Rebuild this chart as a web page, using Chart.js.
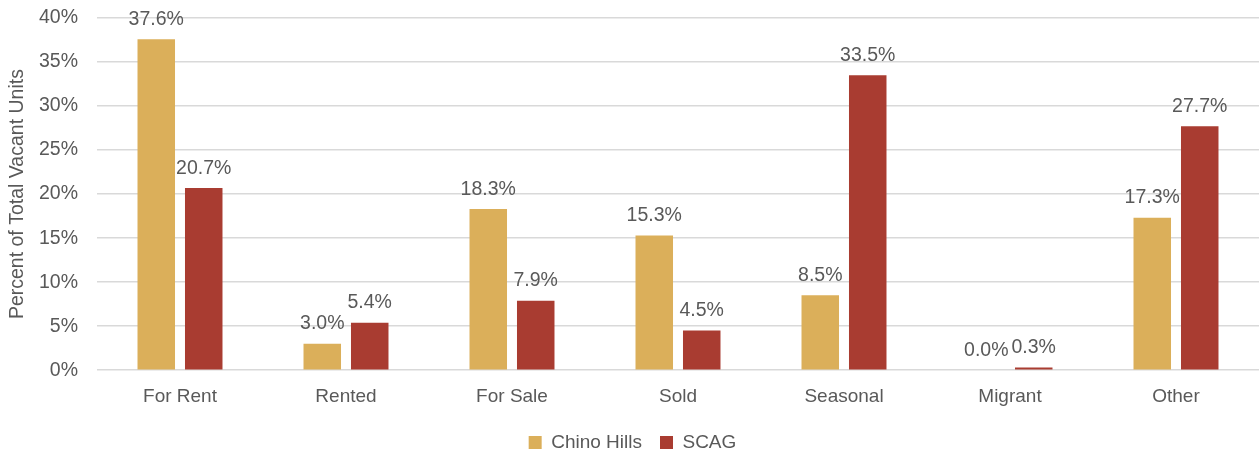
<!DOCTYPE html>
<html>
<head>
<meta charset="utf-8">
<script src="https://cdn.jsdelivr.net/npm/chart.js@4/dist/chart.umd.min.js"></script>
<style>
  html, body { margin: 0; padding: 0; background: #fff; }
  #wrap { width: 1260px; height: 455px; }
</style>
</head>
<body>
<div id="wrap"><canvas id="vacancy-chart"></canvas></div>
<script>
const categories = ["For Rent", "Rented", "For Sale", "Sold", "Seasonal", "Migrant", "Other"];
const chinoHills = [37.6, 3.0, 18.3, 15.3, 8.5, 0.0, 17.3];
const scag = [20.7, 5.4, 7.9, 4.5, 33.5, 0.3, 27.7];
const yTicks = [0, 5, 10, 15, 20, 25, 30, 35, 40];

const FONT = "'Liberation Sans', Arial, sans-serif";
const TEXT = "#595959";

// value labels above each bar
const barLabels = {
  id: "barLabels",
  afterDatasetsDraw(chart) {
    const ctx = chart.ctx;
    ctx.save();
    ctx.font = `19.5px ${FONT}`;
    ctx.fillStyle = TEXT;
    ctx.textAlign = "center";
    ctx.textBaseline = "bottom";
    chart.data.datasets.forEach((ds, i) => {
      chart.getDatasetMeta(i).data.forEach((bar, j) => {
        ctx.fillText(ds.data[j].toFixed(1) + "%", bar.x, bar.y - 10);
      });
    });
    ctx.restore();
  },
};

new Chart(document.getElementById("vacancy-chart"), {
  type: "bar",
  data: {
    labels: categories,
    datasets: [
      { label: "Chino Hills", data: chinoHills, backgroundColor: "#DBAF5A", barPercentage: 0.79, categoryPercentage: 0.572 },
      { label: "SCAG", data: scag, backgroundColor: "#A93C31", barPercentage: 0.79, categoryPercentage: 0.572 },
    ],
  },
  options: {
    responsive: true,
    maintainAspectRatio: false,
    animation: false,
    layout: { padding: { top: 18, right: 1, left: 6, bottom: -7 } },
    plugins: {
      tooltip: { enabled: false },
      legend: {
        position: "bottom",
        labels: { font: { family: FONT, size: 19 }, color: TEXT, boxWidth: 13, boxHeight: 13, padding: 18 },
      },
    },
    scales: {
      x: {
        grid: { display: false },
        border: { display: false },
        ticks: { font: { family: FONT, size: 19 }, color: TEXT, padding: 7 },
      },
      y: {
        min: 0,
        max: 40,
        afterBuildTicks: (axis) => { axis.ticks = yTicks.map((v) => ({ value: v })); },
        afterFit: (axis) => {
          axis.width = 91;
          axis.paddingTop = 0;
          axis.paddingBottom = 0;
        },
        grid: { color: "#D9D9D9", lineWidth: 1.5, drawTicks: false },
        border: { display: false },
        ticks: { font: { family: FONT, size: 19.5 }, color: TEXT, padding: 19, callback: (v) => v + "%" },
        title: { display: true, text: "Percent of Total Vacant Units", font: { family: FONT, size: 19.5 }, color: TEXT, padding: 0 },
      },
    },
  },
  plugins: [barLabels],
});
</script>
</body>
</html>
